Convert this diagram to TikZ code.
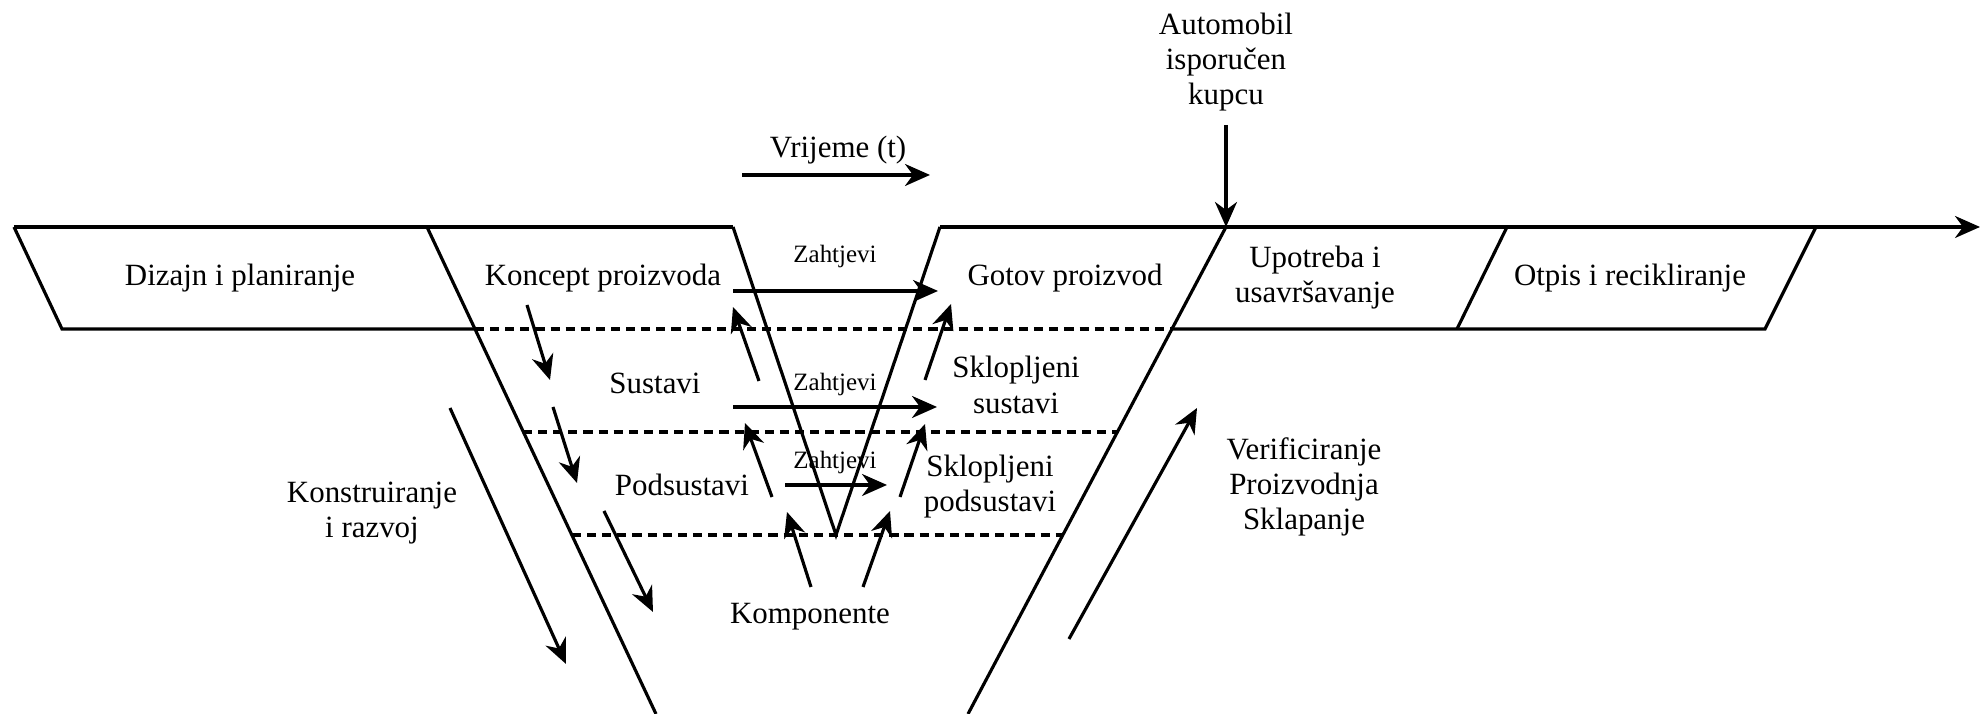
\documentclass[tikz,border=0pt]{standalone}
\usepackage{fontspec}
\setmainfont{Liberation Serif}
\usetikzlibrary{arrows.meta}

\begin{document}
\begin{tikzpicture}
    \tikzstyle{boundary}=[line width=0.9pt]
    \tikzstyle{flow}=[line width=0.9pt,-{Stealth[length=2.5mm,width=2.2mm,inset=0.8mm]}]
    \tikzstyle{stage}=[line width=0.9pt,dash pattern=on 2.6pt off 1.7pt]
    \tikzstyle{txt}=[font=\fontsize{8.8}{10}\selectfont,align=center,inner sep=0pt]
    \tikzstyle{small}=[font=\fontsize{7.1}{8}\selectfont,inner sep=0pt]
    \useasboundingbox (0,0) rectangle (19.82,7.14);

    % life cycle strip
    \draw[boundary] (0.14,4.87) -- (7.33,4.87);
    \draw[flow] (9.40,4.87) -- (19.80,4.87);
    \draw[boundary] (0.14,4.87) -- (0.62,3.85) -- (4.75,3.85);
    \draw[boundary] (11.72,3.85) -- (17.65,3.85) -- (18.16,4.87);
    \draw[boundary] (15.07,4.87) -- (14.57,3.85);

    % V shape
    \draw[boundary] (4.27,4.87) -- (6.56,0);
    \draw[boundary] (12.26,4.87) -- (9.68,0);
    \draw[boundary] (7.33,4.87) -- (8.36,1.79) -- (9.40,4.87);

    \draw[stage] (4.75,3.85) -- (11.72,3.85);
    \draw[stage] (5.23,2.82) -- (11.17,2.82);
    \draw[stage] (5.72,1.79) -- (10.63,1.79);

    \node at (2.40,4.36) (dizajn) [txt] {Dizajn i planiranje};
    \node at (6.03,4.36) (koncept) [txt] {Koncept proizvoda};
    \node at (10.65,4.36) (gotov) [txt] {Gotov proizvod};
    \node at (13.15,4.36) (upotreba) [txt] {Upotreba i\\usavršavanje};
    \node at (16.30,4.36) (otpis) [txt] {Otpis i recikliranje};

    \node at (12.26,6.52) (automobil) [txt] {Automobil\\isporučen\\kupcu};
    \coordinate (delivery) at (12.26,4.87);
    \draw[flow] ([yshift=-1.3mm]automobil.south) -- (delivery);

    \node at (8.38,5.64) (vrijeme) [txt] {Vrijeme (t)};
    \draw[flow] (7.42,5.39) -- (9.30,5.39);

    % requirements
    \node at (8.35,4.57) (zahtjeviA) [small] {Zahtjevi};
    \node at (8.35,3.29) (zahtjeviB) [small] {Zahtjevi};
    \node at (8.35,2.51) (zahtjeviC) [small] {Zahtjevi};
    \draw[flow] (7.33,4.23) -- (9.38,4.23);
    \draw[flow] (7.33,3.07) -- (9.37,3.07);
    \draw[flow] (7.85,2.29) -- (8.87,2.29);

    \node at (6.55,3.31) (sustavi) [txt] {Sustavi};
    \node at (6.82,2.29) (podsustavi) [txt] {Podsustavi};
    \node at (8.10,0.97) (komponente) [txt] {Komponente};
    \node at (10.16,3.29) (sklSustavi) [txt] {Sklopljeni\\sustavi};
    \node at (9.90,2.27) (sklPodsustavi) [txt] {Sklopljeni\\podsustavi};

    % decomposition
    \draw[flow] (5.27,4.09) -- (5.50,3.34);
    \draw[flow] (5.53,3.07) -- (5.77,2.31);
    \draw[flow] (6.04,2.03) -- (6.53,1.02);

    % integration
    \draw[flow] (7.59,3.33) -- (7.33,4.07);
    \draw[flow] (7.72,2.17) -- (7.45,2.91);
    \draw[flow] (8.11,1.27) -- (7.87,2.02);
    \draw[flow] (9.25,3.34) -- (9.51,4.10);
    \draw[flow] (9.00,2.17) -- (9.25,2.90);
    \draw[flow] (8.63,1.27) -- (8.90,2.03);

    \node at (3.72,2.01) (konstruiranje) [txt] {Konstruiranje\\i razvoj};
    \draw[flow] (4.50,3.06) -- (5.66,0.50);

    \node at (13.04,2.27) (verif) [txt] {Verificiranje\\Proizvodnja\\Sklapanje};
    \draw[flow] (10.69,0.75) -- (11.97,3.06);

\end{tikzpicture}
\end{document}
